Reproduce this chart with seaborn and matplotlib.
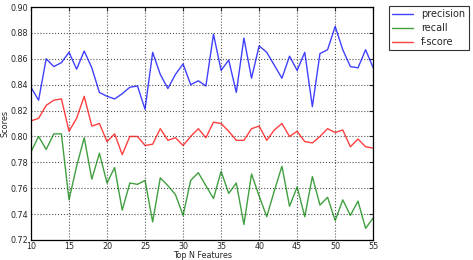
import matplotlib
matplotlib.use("Agg")
import matplotlib.pyplot as plt
import seaborn as sns
import pandas as pd
import numpy as np

top_n = list(range(10, 56))
precision = [0.838, 0.828, 0.860, 0.854, 0.857, 0.865, 0.852, 0.866, 0.853, 0.834,
             0.831, 0.829, 0.833, 0.838, 0.839, 0.821, 0.865, 0.848, 0.837, 0.848,
             0.856, 0.840, 0.843, 0.839, 0.879, 0.851, 0.859, 0.834, 0.876, 0.845,
             0.870, 0.865, 0.855, 0.845, 0.862, 0.851, 0.865, 0.823, 0.864, 0.867,
             0.885, 0.867, 0.854, 0.853, 0.867, 0.853]
recall = [0.788, 0.800, 0.790, 0.802, 0.802, 0.751, 0.777, 0.799, 0.767, 0.787,
          0.764, 0.776, 0.743, 0.764, 0.763, 0.766, 0.734, 0.768, 0.762, 0.755,
          0.739, 0.766, 0.772, 0.762, 0.752, 0.773, 0.756, 0.764, 0.732, 0.771,
          0.754, 0.738, 0.758, 0.777, 0.746, 0.761, 0.738, 0.769, 0.747, 0.753,
          0.735, 0.751, 0.739, 0.750, 0.729, 0.737]
fscore = [0.812, 0.814, 0.824, 0.828, 0.829, 0.804, 0.814, 0.831, 0.808, 0.810,
          0.796, 0.802, 0.786, 0.800, 0.800, 0.793, 0.794, 0.806, 0.797, 0.799,
          0.793, 0.800, 0.806, 0.799, 0.811, 0.810, 0.804, 0.797, 0.797, 0.806,
          0.808, 0.797, 0.805, 0.810, 0.800, 0.804, 0.796, 0.795, 0.800, 0.806,
          0.803, 0.805, 0.792, 0.798, 0.792, 0.791]

series_names = ["precision", "recall", "f-score"]
colors = ["#0000ff", "#008000", "#ff0000"]

df = pd.DataFrame({
    "Top N Features": top_n * 3,
    "Scores": precision + recall + fscore,
    "metric": [series_names[0]] * len(top_n) + [series_names[1]] * len(top_n) + [series_names[2]] * len(top_n),
})

sns.set_style("white")
plt.rcParams["font.family"] = ["DejaVu Sans"]

fig = plt.figure(figsize=(4.73, 2.60), dpi=100)
ax = fig.add_axes([0.0655, 0.077, 0.7235, 0.896])

sns.lineplot(data=df, x="Top N Features", y="Scores", hue="metric",
             palette=dict(zip(series_names, colors)), linewidth=1.0, alpha=0.75,
             ax=ax, legend=True)

ax.set_xlim(10, 55)
ax.set_ylim(0.72, 0.90)
ax.set_xticks(range(10, 56, 5))
ax.set_yticks(np.arange(0.72, 0.901, 0.02))
ax.set_yticklabels([f"{v:.2f}" for v in np.arange(0.72, 0.901, 0.02)])
ax.grid(True, linestyle=":", color="#555555", linewidth=0.8)
ax.tick_params(labelsize=5.8, direction="in", length=3, top=True, right=True, pad=2)
ax.tick_params(axis="x", pad=1.5)
for s in ax.spines.values():
    s.set_color("black")
    s.set_linewidth(0.9)
ax.set_xlabel("Top N Features", fontsize=5.8, labelpad=0)
ax.set_ylabel("Scores", fontsize=5.8, labelpad=1)

leg = ax.legend(loc="upper left", bbox_to_anchor=(1.045, 1.005), fontsize=7,
                frameon=True, fancybox=False, handlelength=2.2, borderpad=0.35,
                labelspacing=0.4, handletextpad=0.8, borderaxespad=0)
leg.get_frame().set_edgecolor("black")
leg.get_frame().set_linewidth(0.8)
for line in leg.get_lines():
    line.set_linewidth(1.0)

fig.savefig("out.png", dpi=100)
